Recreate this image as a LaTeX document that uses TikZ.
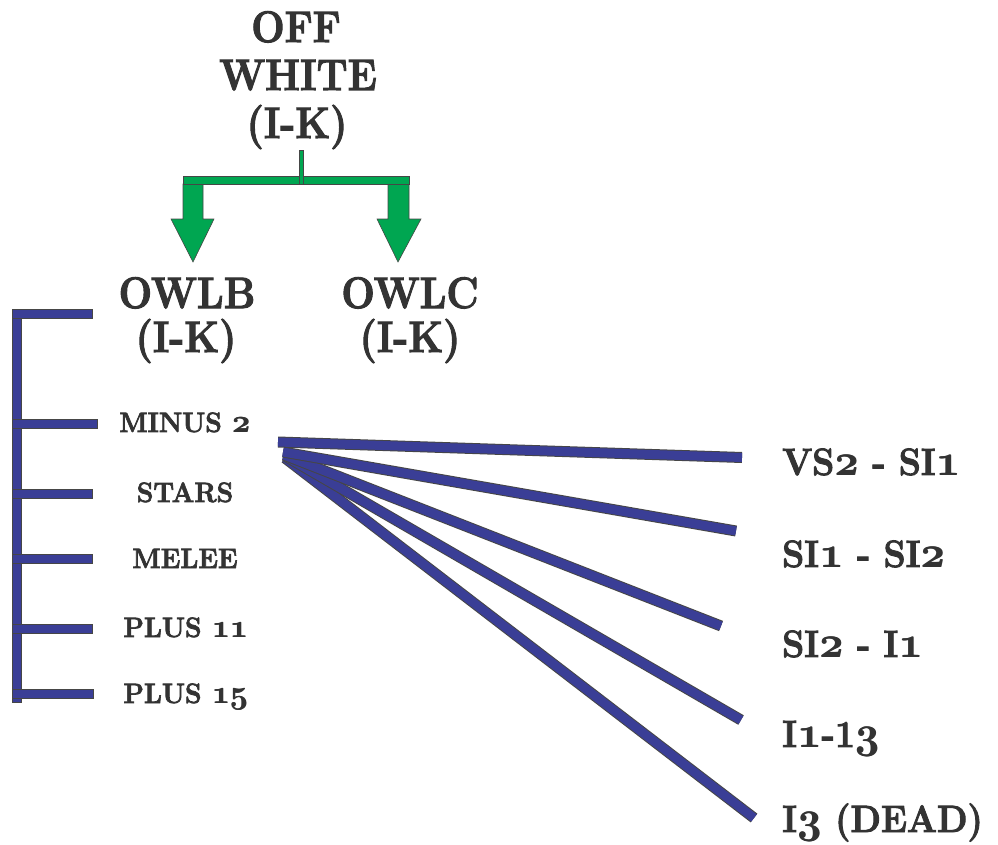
\documentclass[tikz,border=0pt]{standalone}
\usepackage{graphicx}
\usepackage{fontspec}
\setmainfont{Latin Modern Roman}[BoldFeatures={FakeBold=2.5}]
\DeclareFontFamily{OML}{osb}{\skewchar\font'177}
\DeclareFontShape{OML}{osb}{b}{it}{<->cmmib10}{}
\definecolor{txt}{RGB}{51,51,51}
\definecolor{gfill}{RGB}{0,166,81}
\definecolor{bfill}{RGB}{58,62,150}
\definecolor{edge}{RGB}{70,70,70}
\newcommand{\osn}[1]{{\usefont{OML}{osb}{b}{it}\scalebox{1.18}{\rlap{#1}\kern0.7pt#1}}}
\begin{document}
\begin{tikzpicture}[x=1pt,y=-1pt,
  big/.style={font=\fontsize{44}{48}\selectfont\bfseries, text=txt, inner sep=0pt, anchor=base, xscale=0.9},
  mid/.style={font=\fontsize{38}{44}\selectfont\bfseries, text=txt, inner sep=0pt, anchor=base west, xscale=0.93},
  small/.style={font=\fontsize{28}{32}\selectfont\bfseries, text=txt, inner sep=0pt, anchor=base, xscale=0.95},
  greenpart/.style={fill=gfill, draw=edge, line width=0.6pt},
  bluebar/.style={fill=bfill, draw=edge, line width=0.6pt},
  fanout/.style={draw=edge, line width=11pt},
  fanin/.style={draw=bfill, line width=9pt},
]
\useasboundingbox (0,0) rectangle (998,845);

% title
\node[big] (t1) at (296,42) {OFF};
\node[big] (t2) at (298,90) {WHITE};
\node[big] (t3) at (297,138) {(I-K)};

% green splitter
\coordinate (stemtop) at (301,150);
\coordinate (la) at (193,262);
\coordinate (ra) at (398,262);
\draw[greenpart] (183,184) -- (203,184) -- (203,219) -- (214,219) -- (la) -- (171,219) -- (183,219) -- cycle;
\draw[greenpart] (388,184) -- (409,184) -- (409,219) -- (421,219) -- (ra) -- (377,219) -- (388,219) -- cycle;
\draw[greenpart] (183,176) rectangle (409,184);
\draw[greenpart] (299,150) rectangle (303,184);

% second level
\node[big] (owlb1) at (187,308) {OWLB};
\node[big] (owlb2) at (186,352) {(I-K)};
\node[big] (owlc1) at (410,308) {OWLC};
\node[big] (owlc2) at (410,352) {(I-K)};

% blue bracket
\draw[bluebar] (12,309) rectangle (21,702);
\draw[bluebar] (12,309) rectangle (92,318);
\draw[bluebar] (12,419) rectangle (97,428);
\draw[bluebar] (12,489) rectangle (92,498);
\draw[bluebar] (12,554) rectangle (92,563);
\draw[bluebar] (12,624) rectangle (92,633);
\draw[bluebar] (12,689) rectangle (93,698);

% left labels
\node[small] (m2) at (185,432) {MINUS \osn{2}};
\node[small] (st) at (185,502) {STARS};
\node[small] (me) at (185,568) {MELEE};
\node[small] (p11) at (186,637) {PLUS \osn{11}};
\node[small] (p15) at (186,703) {PLUS \osn{15}};

% fan
\coordinate (s1) at (278,442);
\coordinate (s2) at (283,452);
\coordinate (s3) at (284,455);
\coordinate (s4) at (285,456);
\coordinate (s5) at (285,458);
\coordinate (e1) at (742,457.5);
\coordinate (e2) at (736,531);
\coordinate (e3) at (721,626);
\coordinate (e4) at (741,720);
\coordinate (e5) at (754,818);
\foreach \i in {5,4,3,2,1}{
  \draw[fanout] (s\i) -- (e\i);
  \draw[fanin] (s\i) -- (e\i);
}

% right labels
\node[mid] (r1) at (782,475) {VS\osn{2} - SI\osn{1}};
\node[mid] (r2) at (782,567) {SI\osn{1} - SI\osn{2}};
\node[mid] (r3) at (782,657) {SI\osn{2} - I\osn{1}};
\node[mid] (r4) at (782,747) {I\osn{1}-1\osn{3}};
\node[mid] (r5) at (782,832) {I\osn{3} (DEAD)};
\end{tikzpicture}
\end{document}
